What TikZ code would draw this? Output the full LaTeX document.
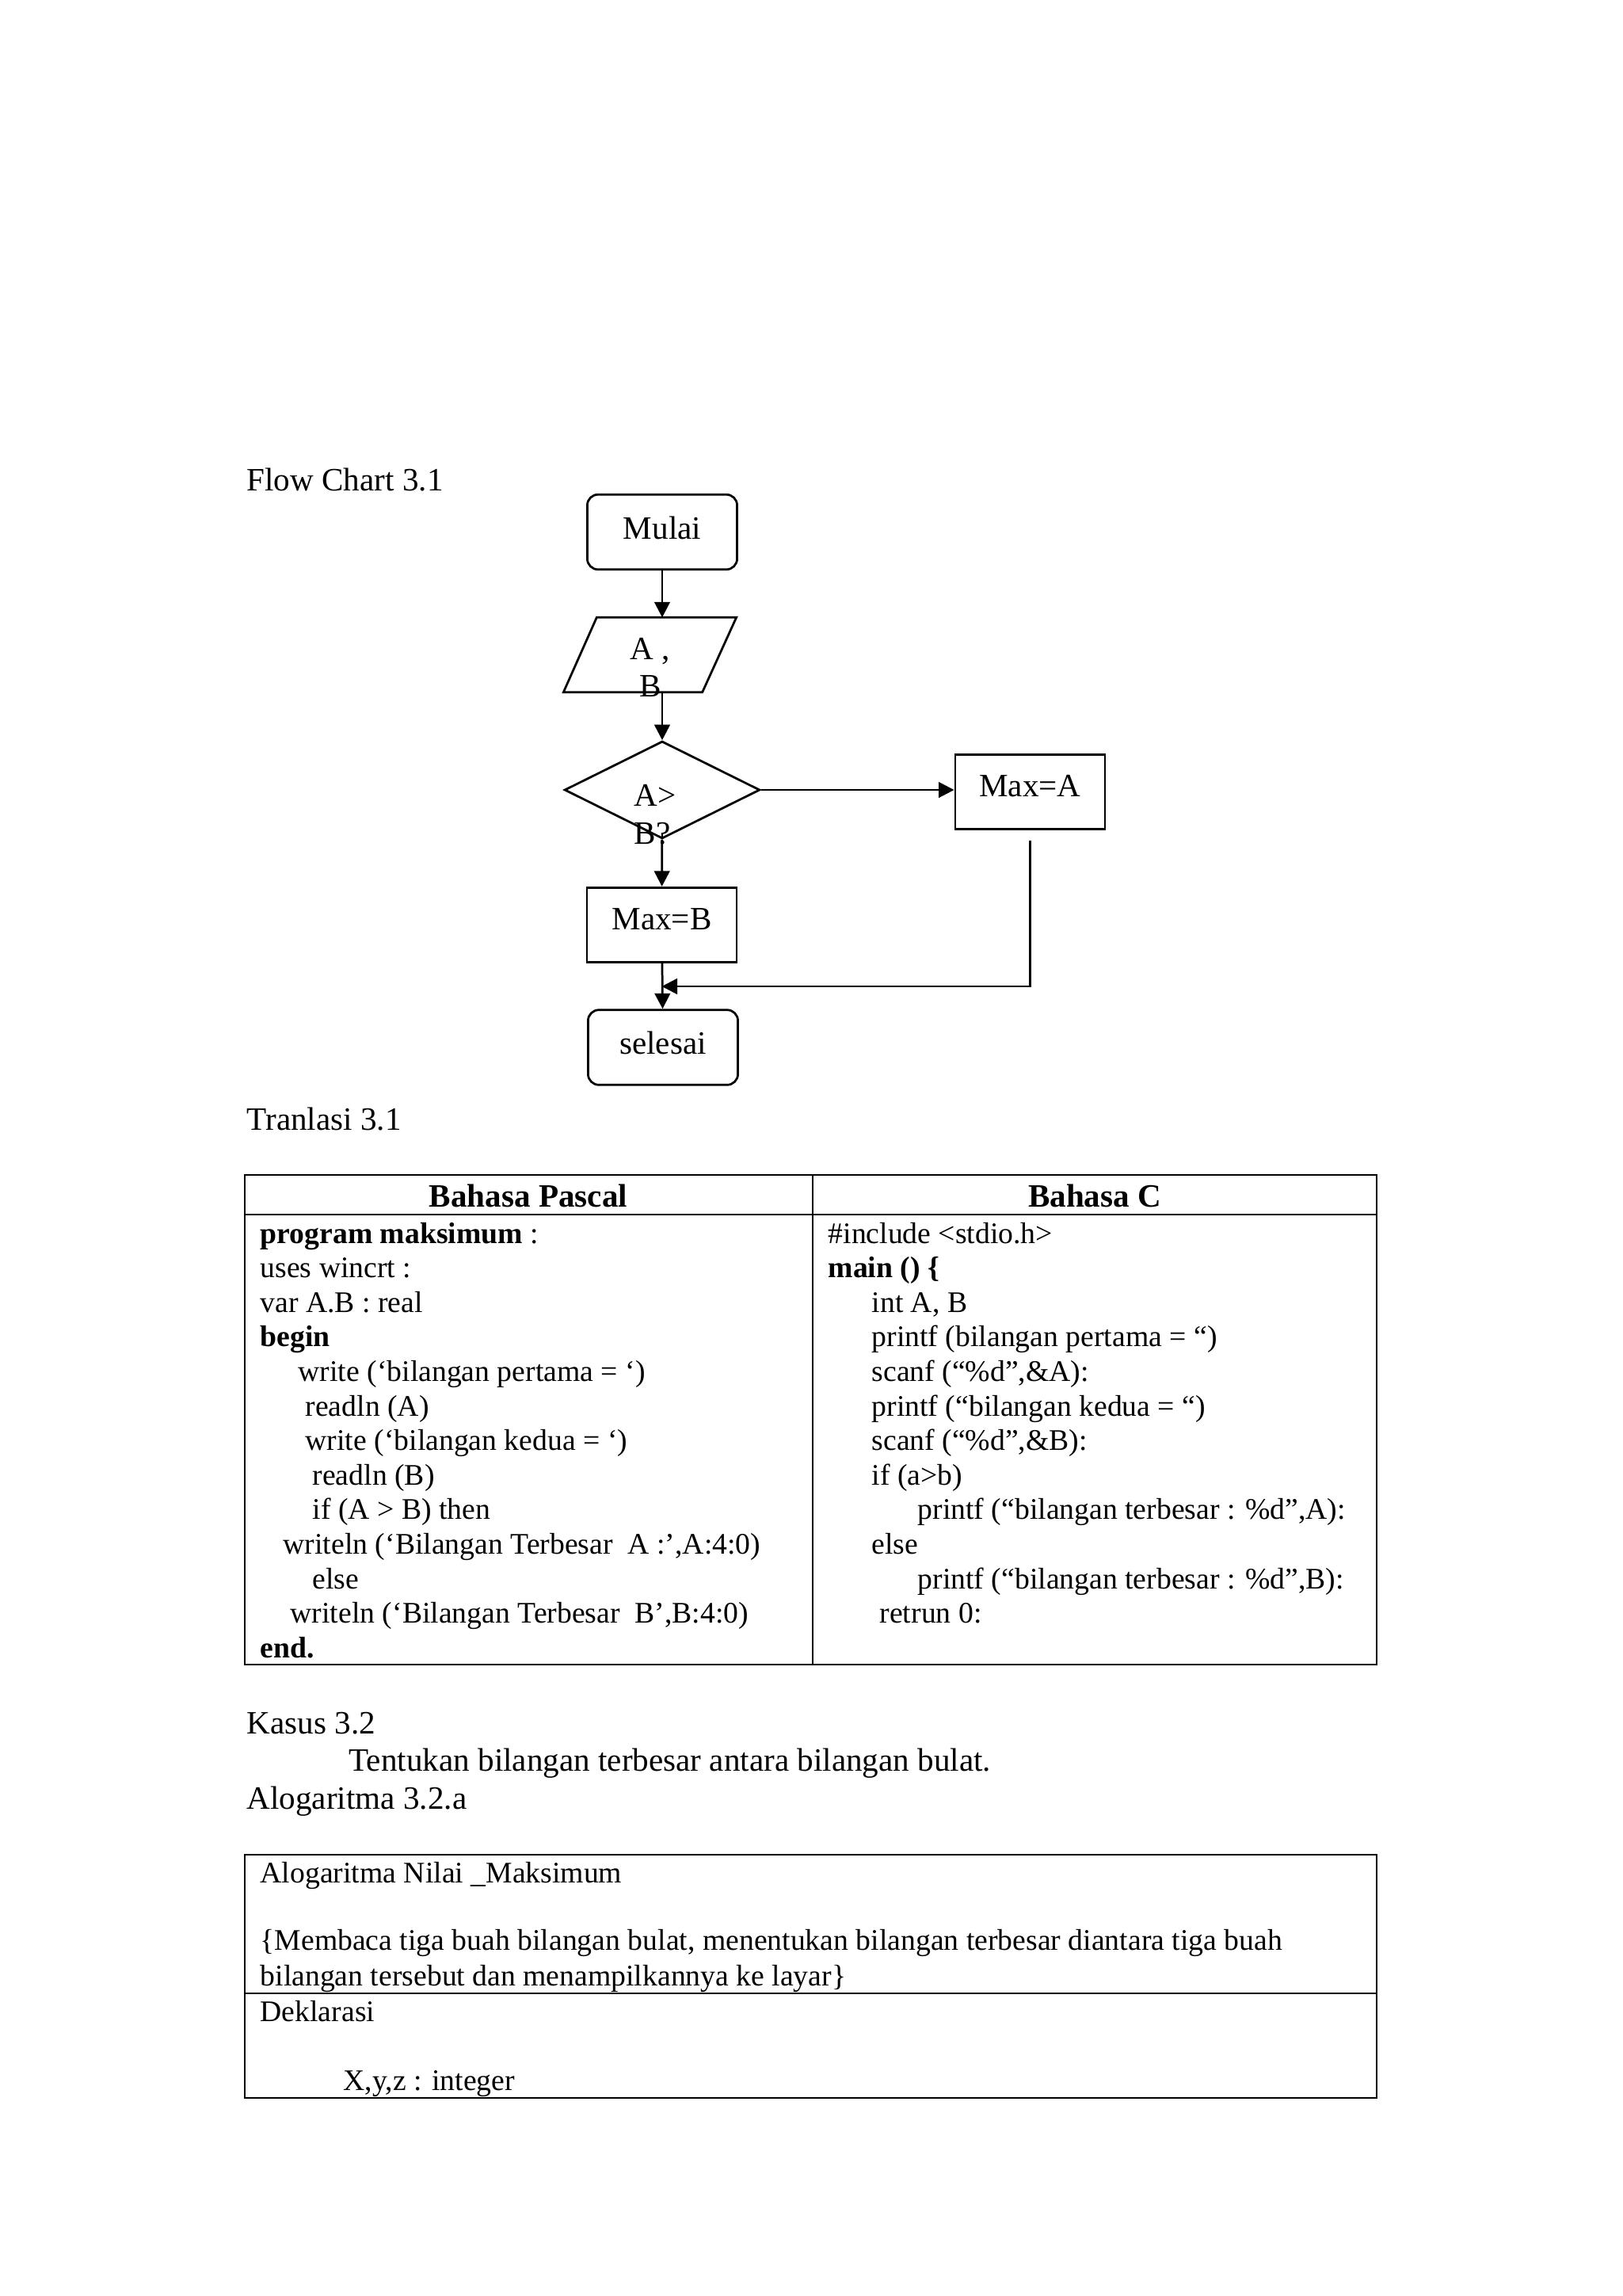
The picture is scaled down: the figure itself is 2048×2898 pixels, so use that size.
\documentclass[tikz,border=0pt]{standalone}
\usepackage{fontspec}
\setmainfont{Liberation Serif}
\usetikzlibrary{arrows.meta,shapes.geometric}

\begin{document}
\begin{tikzpicture}[x=0.01025cm, y=-0.01025cm,
  font=\fontsize{12}{14}\selectfont,
  >={Triangle[length=0.2cm,width=0.2cm]},
  box/.style={draw, line width=0.8pt, minimum width=1.94cm, minimum height=0.97cm,
    inner sep=0pt, text height=0.3cm, text depth=0.17cm},
  term/.style={box, rounded corners=0.14cm, text height=0.34cm, text depth=0.16cm},
  txt/.style={anchor=base west, inner sep=0pt},
  ctxt/.style={anchor=base, inner sep=0pt},
  isi/.style={txt, font=\fontsize{11}{13}\selectfont}]

  \useasboundingbox (0,0) rectangle (2048,2898);

  % flow chart
  \node[txt] (judul1) at (311,619) {Flow Chart 3.1};

  \node[term] (mulai) at (836,671.5) {Mulai};

  \node[minimum width=2.224cm, minimum height=0.953cm, inner sep=0pt] (inp) at (820.5,826.5) {};
  \draw[line width=0.8pt] (inp.north east) -- ([xshift=-0.44cm]inp.south east)
    -- (inp.south west) -- ([xshift=0.43cm]inp.north west) -- cycle;
  \node[ctxt] (inpa) at (821,832) {A ,};
  \node[ctxt] (inpb) at (821,879) {B};

  \node[draw, diamond, line width=0.8pt, minimum width=2.53cm, minimum height=1.26cm,
    inner sep=0pt] (cek) at (836,997) {};
  \node[txt] (ceka) at (800,1017) {A>};
  \node[txt] (cekb) at (800,1065) {B?};

  \node[box] (maxa) at (1300.5,999.5) {Max=A};
  \node[box] (maxb) at (835.5,1167.5) {Max=B};
  \node[term] (selesai) at (837,1322) {selesai};

  \coordinate (ujung) at ([yshift=-0.13cm]maxa.south);
  \coordinate (gabung) at (maxb.south |- 0,1245);

  \begin{scope}[line width=0.8pt]
  \draw[->] (mulai) -- (mulai |- inp.north);
  \draw[->] (cek.north |- inp.south) -- (cek);
  \draw[->] (cek) -- (cek.east -| maxa.west);
  \draw[->] (cek) -- (maxb);
  \draw[->] (maxb) -- (selesai);
  \draw[->] (ujung) |- (gabung);
  \end{scope}

  % tabel translasi
  \node[txt] (judul2) at (311,1426) {Tranlasi 3.1};

  \draw[line width=0.6pt] (309,1483) rectangle (1738,2101);
  \draw[line width=0.6pt] (309,1533) -- (1738,1533);
  \draw[line width=0.6pt] (1026,1483) -- (1026,2101);

  \node[ctxt] (hpas) at (667,1523) {\textbf{Bahasa Pascal}};
  \node[ctxt] (hc) at (1382,1523) {\textbf{Bahasa C}};

  \foreach \dx/\txt [count=\i] in {
      0/{\textbf{program maksimum} :},
      0/{uses wincrt :},
      0/{var A.B : real},
      0/{\textbf{begin}},
      48/{write (‘bilangan pertama = ‘)},
      57/{readln (A)},
      57/{write (‘bilangan kedua = ‘)},
      66/{readln (B)},
      66/{if (A > B) then},
      29/{writeln (‘Bilangan Terbesar~ A :’,A:4:0)},
      66/{else},
      38/{writeln (‘Bilangan Terbesar~ B’,B:4:0)},
      0/{\textbf{end.}}}
    \node[isi] (pas\i) at (328+\dx,{1569+43.6*(\i-1)}) {\txt};

  \foreach \dx/\txt [count=\i] in {
      0/{\#include <stdio.h>},
      0/{\textbf{main () \{}},
      55/{int A, B},
      55/{printf (bilangan pertama = “)},
      55/{scanf (“\%d”,\&A):},
      55/{printf (“bilangan kedua = “)},
      55/{scanf (“\%d”,\&B):},
      55/{if (a>b)},
      113/{printf (“bilangan terbesar : \%d”,A):},
      55/{else},
      113/{printf (“bilangan terbesar : \%d”,B):},
      65/{retrun 0:}}
    \node[isi] (cc\i) at (1045+\dx,{1569+43.6*(\i-1)}) {\txt};

  % kasus 3.2
  \node[txt] (judul3) at (311,2188) {Kasus 3.2};
  \node[txt] (soal) at (440,2235) {Tentukan bilangan terbesar antara bilangan bulat.};
  \node[txt] (judul4) at (311,2283) {Alogaritma 3.2.a};

  \draw[line width=0.6pt] (309,2341) rectangle (1738,2648);
  \draw[line width=0.6pt] (309,2516) -- (1738,2516);

  \node[isi] (alg1) at (328,2376) {Alogaritma Nilai \_Maksimum};
  \node[isi] (alg2) at (328,2461) {\{Membaca tiga buah bilangan bulat, menentukan bilangan terbesar diantara tiga buah};
  \node[isi] (alg3) at (328,2506) {bilangan tersebut dan menampilkannya ke layar\}};
  \node[isi] (dek1) at (328,2551) {Deklarasi};
  \node[isi] (dek2) at (433,2638) {X,y,z : integer};

\end{tikzpicture}
\end{document}
